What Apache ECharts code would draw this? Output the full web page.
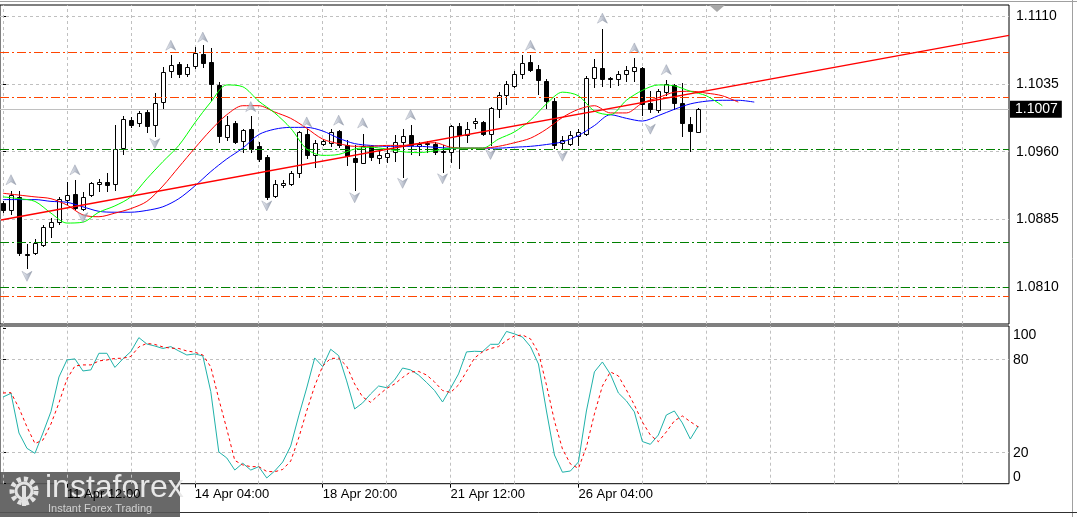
<!DOCTYPE html>
<html><head><meta charset="utf-8">
<script src="https://cdn.jsdelivr.net/npm/echarts@6/dist/echarts.min.js"></script>
<style>html,body{margin:0;padding:0;background:#fff}#c{width:1077px;height:517px}</style>
</head><body><div id="c"></div>
<script>
// ---------- data ----------
const timeLabelIdx = [8, 24, 40, 56, 72];
const timeLabels = ['11 Apr 12:00', '14 Apr 04:00', '18 Apr 20:00', '21 Apr 12:00', '26 Apr 04:00'];
const priceTicks = [1.0810, 1.0885, 1.0960, 1.1035, 1.1110];
const stochTicks = [0, 20, 80, 100];
// [open, close, low, high], one row per 4H bar
const candles = [
[1.0903,1.0895,1.0893,1.0905],[1.0895,1.0912,1.0891,1.0917],[1.0910,1.0848,1.0846,1.0917],[1.0847,1.0846,1.0831,1.0858],
[1.0848,1.0859,1.0847,1.0863],[1.0857,1.0877,1.0856,1.0879],[1.0877,1.0882,1.0866,1.0887],[1.0882,1.0908,1.0880,1.0910],
[1.0906,1.0912,1.0902,1.0926],[1.0913,1.0898,1.0897,1.0929],[1.0897,1.0910,1.0895,1.0915],[1.0912,1.0925,1.0911,1.0927],
[1.0924,1.0926,1.0916,1.0930],[1.0926,1.0923,1.0916,1.0937],[1.0924,1.0963,1.0918,1.0990],[1.0964,1.0996,1.0958,1.1000],
[1.0995,1.0990,1.0987,1.0998],[1.0992,1.1003,1.0988,1.1005],[1.1004,1.0989,1.0982,1.1006],[1.0990,1.1014,1.0977,1.1025],
[1.1015,1.1048,1.1008,1.1054],[1.1049,1.1056,1.1043,1.1067],[1.1057,1.1046,1.1043,1.1059],[1.1046,1.1054,1.1044,1.1057],
[1.1055,1.1069,1.1053,1.1076],[1.1068,1.1058,1.1054,1.1078],[1.1059,1.1035,1.1017,1.1075],[1.1034,1.0977,1.0971,1.1037],
[1.0976,1.0990,1.0973,1.1000],[1.0992,1.0971,1.0970,1.0994],[1.0972,1.0984,1.0960,1.0985],[1.0985,1.0963,1.0960,1.1000],
[1.0966,1.0952,1.0950,1.0971],[1.0954,1.0910,1.0908,1.0956],[1.0911,1.0924,1.0910,1.0929],[1.0923,1.0925,1.0921,1.0929],
[1.0924,1.0937,1.0923,1.0939],[1.0936,1.0982,1.0932,1.0983],[1.0980,1.0956,1.0953,1.0985],[1.0956,1.0970,1.0943,1.0973],
[1.0969,1.0972,1.0968,1.0974],[1.0970,1.0982,1.0966,1.0985],[1.0983,1.0968,1.0965,1.0984],[1.0967,1.0955,1.0945,1.0973],
[1.0953,1.0949,1.0918,1.0967],[1.0947,1.0966,1.0947,1.0980],[1.0966,1.0954,1.0951,1.0967],[1.0953,1.0956,1.0947,1.0961],
[1.0954,1.0959,1.0949,1.0965],[1.0960,1.0971,1.0950,1.0979],[1.0971,1.0977,1.0932,1.0985],[1.0978,1.0967,1.0958,1.0990],
[1.0966,1.0969,1.0956,1.0971],[1.0970,1.0969,1.0960,1.0972],[1.0969,1.0960,1.0957,1.0971],[1.0961,1.0960,1.0938,1.0967],
[1.0960,1.0989,1.0949,1.0990],[1.0989,1.0979,1.0942,1.0992],[1.0979,1.0985,1.0971,1.0993],[1.0992,1.0994,1.0986,1.0997],
[1.0993,1.0980,1.0979,1.0994],[1.0980,1.1008,1.0967,1.1010],[1.1007,1.1023,1.0999,1.1026],[1.1023,1.1035,1.1013,1.1038],
[1.1033,1.1046,1.1032,1.1049],[1.1046,1.1058,1.1042,1.1067],[1.1059,1.1050,1.1049,1.1067],[1.1052,1.1039,1.1024,1.1056],
[1.1038,1.1016,1.1009,1.1041],[1.1016,1.0967,1.0964,1.1019],[1.0970,1.0973,1.0964,1.0977],[1.0969,1.0979,1.0967,1.0983],
[1.0977,1.0982,1.0967,1.0985],[1.0980,1.1042,1.0979,1.1044],[1.1042,1.1054,1.1032,1.1063],[1.1053,1.1041,1.1033,1.1096],
[1.1042,1.1041,1.1032,1.1043],[1.1041,1.1046,1.1034,1.1049],[1.1046,1.1051,1.1038,1.1055],[1.1049,1.1054,1.1038,1.1064],
[1.1053,1.1013,1.1001,1.1054],[1.1014,1.1007,1.1004,1.1027],[1.1006,1.1027,1.1004,1.1030],[1.1026,1.1035,1.1023,1.1039],
[1.1034,1.1014,1.1007,1.1035],[1.1014,1.0992,1.0977,1.1036],[1.0991,1.0983,1.0961,1.0998],[1.0982,1.1007,1.0982,1.1008]
];
// moving averages, one reading every 2 bars (bar 0, 2, 4, ...)
const maGreen = [1.0910,1.0908,1.0905,1.0892,1.0881,1.0882,1.0893,1.0900,1.0910,1.0930,1.0949,1.0967,1.0992,1.1015,1.1034,1.1032,
1.1016,1.1003,1.0986,1.0963,1.0956,1.0957,1.0963,1.0965,1.0963,1.0960,1.0959,1.0961,1.0964,1.0964,1.0964,1.0974,1.0982,1.0995,
1.1013,1.1026,1.1022,1.1005,1.1001,1.1017,1.1028,1.1034,1.1033,1.1027,1.1022,1.1011];
const maRed = [1.0914,1.0912,1.0910,1.0908,1.0901,1.0890,1.0888,1.0892,1.0897,1.0905,1.0922,1.0943,1.0964,1.0984,1.1001,1.1011,
1.1011,1.1004,1.0997,1.0986,1.0974,1.0969,1.0966,1.0966,1.0967,1.0967,1.0969,1.0970,1.0965,1.0964,1.0964,1.0966,1.0970,1.0975,
1.0985,1.0998,1.1007,1.1011,1.1003,1.1003,1.1014,1.1020,1.1026,1.1027,1.1025,1.1022,1.1015];
const maBlue = [1.0907,1.0907,1.0907,1.0905,1.0904,1.0899,1.0894,1.0893,1.0893,1.0895,1.0899,1.0908,1.0922,1.0938,1.0952,1.0964,
1.0979,1.0985,1.0987,1.0987,1.0983,1.0975,1.0969,1.0967,1.0966,1.0966,1.0966,1.0965,1.0964,1.0964,1.0964,1.0964,1.0965,1.0966,
1.0968,1.0971,1.0978,1.0989,1.1001,1.0997,1.0994,1.1000,1.1007,1.1013,1.1016,1.1017,1.1017,1.1015];
const trendLine = [[-0.25, 1.08844], [125.875, 1.10889]];
const levelsRed = [1.1070, 1.1020, 1.0800];
const levelsGreen = [1.0963, 1.0860, 1.0810];
const lastPrice = 1.1007;
const fractalUpIdx = [1, 9, 21, 25, 31, 38, 42, 45, 51, 66, 75, 79, 83];
const fractalUpVal = [1.0929, 1.0940, 1.1078, 1.1087, 1.1010, 1.0993, 1.0995, 1.0992, 1.1001, 1.1078, 1.1108, 1.1075, 1.1051];
const fractalDnIdx = [3, 10, 19, 33, 44, 50, 55, 61, 70, 81];
const fractalDnVal = [1.0822, 1.0887, 1.0969, 1.0900, 1.0909, 1.0925, 1.0930, 1.0957, 1.0955, 1.0985];
const stochMain = [55.9,58.3,32.7,22.8,19.6,32.7,46.5,68.8,79.8,80.5,72.7,73.4,84.1,84.1,75.0,80.5,85.2,94.2,90.1,88.8,
87.2,88.4,85.6,83.0,83.7,82.4,59.4,20.5,16.6,8.8,13.2,8.8,11.0,3.7,8.2,14.0,24.3,43.7,61.7,81.1,
75.5,86.7,82.6,66.3,48.2,52.1,57.9,63.0,61.9,66.9,74.6,73.4,70.1,65.3,60.1,52.7,61.5,70.8,85.0,85.4,
85.2,89.9,89.9,98.2,96.6,94.6,88.4,77.2,46.9,18.5,7.4,8.2,14.0,46.9,72.1,78.5,70.6,58.5,53.4,46.3,
27.2,25.4,31.4,44.3,46.9,39.2,28.8,37.2];
const stochSignal = [58.5,58.7,48.8,36.6,25.9,28.2,38.5,52.1,67.5,75.9,76.6,76.6,79.2,79.8,80.8,80.9,82.1,88.2,90.5,89.8,
88.2,87.4,87.2,85.6,84.8,83.0,75.3,54.6,35.3,15.0,12.1,11.0,11.0,7.9,7.7,9.2,14.6,29.5,46.9,63.0,
75.9,80.8,80.9,75.9,64.3,55.9,52.5,57.2,61.4,64.3,68.5,72.1,72.4,70.1,65.6,60.1,58.8,63.7,72.4,81.1,
85.0,87.2,88.4,92.4,95.3,95.9,93.4,84.6,63.7,40.5,22.4,12.7,9.9,23.7,45.0,63.0,72.1,69.5,60.5,50.8,
39.8,31.4,27.1,33.4,40.5,43.7,40.0,36.6];

// ---------- chart ----------
const chart = echarts.init(document.getElementById('c'));
const X_MIN = -0.375, X_MAX = 125.875;
const FONT = 'Liberation Sans';
const gridKs = []; for (let k = 0; k <= 120; k += 8) gridKs.push(k);
const gridStyle = {color: '#c0c0c0', type: [3, 3], width: 1};
const dashDot = [9, 3, 2, 3];
const mainRect = {left: -1, top: 5, width: 1010, height: 319};
const stochRect = {left: -1, top: 326, width: 1010, height: 157.7};

function renderCandle(params, api) {
  const k = api.value(0), o = api.value(1), c = api.value(2), l = api.value(3), h = api.value(4);
  const pO = api.coord([k, o]), pC = api.coord([k, c]), pL = api.coord([k, l]), pH = api.coord([k, h]);
  const cx = Math.round(pO[0]);
  const yTop = Math.round(Math.min(pO[1], pC[1])), yBot = Math.round(Math.max(pO[1], pC[1]));
  return {type: 'group', children: [
    {type: 'line', shape: {x1: cx + 0.5, y1: Math.round(pH[1]), x2: cx + 0.5, y2: Math.round(pL[1]) + 1},
     style: {stroke: '#000', lineWidth: 1}},
    {type: 'rect', shape: {x: cx - 1.5, y: yTop + 0.5, width: 4, height: Math.max(yBot - yTop, 0)},
     style: {fill: c >= o ? '#fff' : '#000', stroke: '#000', lineWidth: 1}}
  ]};
}
const arrowFill = new echarts.graphic.LinearGradient(0, 0, 1, 0, [
  {offset: 0, color: '#eef0f5'}, {offset: 0.5, color: '#b3bac9'}, {offset: 1, color: '#7a8394'}]);

const option = {
  animation: false,
  backgroundColor: '#fff',
  grid: [
    Object.assign({show: true, borderColor: '#000', borderWidth: 1, backgroundColor: '#fff'}, mainRect),
    Object.assign({show: true, borderColor: '#000', borderWidth: 1, backgroundColor: '#fff'}, stochRect),
    Object.assign({show: false}, stochRect),
    Object.assign({show: false}, stochRect)
  ],
  xAxis: [
    {gridIndex: 0, type: 'value', min: X_MIN, max: X_MAX, show: false},
    {gridIndex: 1, type: 'value', min: X_MIN, max: X_MAX,
     axisLine: {show: false}, splitLine: {show: false},
     axisTick: {show: true, customValues: timeLabelIdx, length: 4, lineStyle: {color: '#000'}},
     axisLabel: {customValues: timeLabelIdx, formatter: v => timeLabels[timeLabelIdx.indexOf(v)],
       align: 'left', margin: 4, color: '#000', fontSize: 13, fontFamily: FONT}},
    {gridIndex: 2, type: 'value', min: X_MIN, max: X_MAX, show: false},
    {gridIndex: 3, type: 'value', min: X_MIN, max: X_MAX, show: false}
  ],
  yAxis: [
    {gridIndex: 0, type: 'value', position: 'right', min: 1.076917, max: 1.112256,
     axisLine: {show: false}, splitLine: {show: false},
     axisTick: {show: true, customValues: priceTicks, length: 4, lineStyle: {color: '#000'}},
     axisLabel: {customValues: priceTicks, formatter: v => v.toFixed(4), margin: 7,
       fontSize: 14, color: '#000', fontFamily: FONT}},
    {gridIndex: 1, type: 'value', position: 'right', min: 0, max: 101.7,
     axisLine: {show: false}, splitLine: {show: false},
     axisTick: {show: true, customValues: stochTicks, length: 3, lineStyle: {color: '#000'}},
     axisLabel: {customValues: [stochTicks[1], stochTicks[2]], formatter: v => String(v), margin: 4,
       fontSize: 14, color: '#000', fontFamily: FONT}},
    {gridIndex: 2, type: 'value', position: 'right', min: 0, max: 101.7,
     axisLine: {show: false}, splitLine: {show: false}, axisTick: {show: false},
     axisLabel: {customValues: [stochTicks[3]], formatter: v => String(v), margin: 4, verticalAlign: 'top',
       fontSize: 14, color: '#000', fontFamily: FONT}},
    {gridIndex: 3, type: 'value', position: 'right', min: 0, max: 101.7,
     axisLine: {show: false}, splitLine: {show: false}, axisTick: {show: false},
     axisLabel: {customValues: [stochTicks[0]], formatter: v => String(v), margin: 4, verticalAlign: 'bottom',
       fontSize: 14, color: '#000', fontFamily: FONT}}
  ],
  series: [
    // main-pane grid
    {type: 'line', xAxisIndex: 0, yAxisIndex: 0, data: [], silent: true,
     markLine: {silent: true, z: 1, precision: 6, symbol: ['none', 'none'], label: {show: false}, lineStyle: gridStyle,
       emphasis: {disabled: true},
       data: gridKs.map(k => ({xAxis: k})).concat(priceTicks.map(v => ({yAxis: v})))}},
    // bid line + price label
    {type: 'line', xAxisIndex: 0, yAxisIndex: 0, data: [], silent: true,
     markLine: {silent: true, z: 1, precision: 6, symbol: ['none', 'none'], emphasis: {disabled: true},
       lineStyle: {color: '#c0c0c0', type: 'solid', width: 1},
       label: {show: true, position: 'end', formatter: lastPrice.toFixed(4), color: '#fff', backgroundColor: '#000',
         padding: [2, 4, 1, 5], fontSize: 14, fontFamily: FONT, distance: 1},
       data: [{yAxis: lastPrice}]}},
    // candles
    {type: 'custom', xAxisIndex: 0, yAxisIndex: 0, z: 3, renderItem: renderCandle, clip: true,
     encode: {x: 0, y: [1, 2, 3, 4]},
     data: candles.map((c, k) => [k, c[0], c[1], c[2], c[3]])},
    // moving averages
    {type: 'line', xAxisIndex: 0, yAxisIndex: 0, z: 4, showSymbol: false, smooth: 0.3,
     lineStyle: {color: '#0000ff', width: 1}, data: maBlue.map((v, i) => [i * 2, v])},
    {type: 'line', xAxisIndex: 0, yAxisIndex: 0, z: 4, showSymbol: false, smooth: 0.3,
     lineStyle: {color: '#ff0000', width: 1}, data: maRed.map((v, i) => [i * 2, v])},
    {type: 'line', xAxisIndex: 0, yAxisIndex: 0, z: 4, showSymbol: false, smooth: 0.3,
     lineStyle: {color: '#00ff00', width: 1}, data: maGreen.map((v, i) => [i * 2, v])},
    // trend line
    {type: 'line', xAxisIndex: 0, yAxisIndex: 0, z: 4, showSymbol: false,
     lineStyle: {color: '#ff0000', width: 1.4}, data: trendLine},
    // support / resistance levels
    {type: 'line', xAxisIndex: 0, yAxisIndex: 0, data: [], silent: true,
     markLine: {silent: true, z: 4, precision: 6, symbol: ['none', 'none'], label: {show: false}, emphasis: {disabled: true},
       data: levelsRed.map(v => ({yAxis: v, lineStyle: {color: '#ff4500', type: dashDot, width: 1}}))
         .concat(levelsGreen.map(v => ({yAxis: v, lineStyle: {color: '#008000', type: dashDot, width: 1}})))}},
    // fractals
    {type: 'scatter', xAxisIndex: 0, yAxisIndex: 0, z: 6, symbol: 'path://M5,0 L10,10 L5,7 L0,10 Z',
     symbolSize: [10, 10], itemStyle: {color: arrowFill, borderColor: '#8a92a3', borderWidth: 0.5},
     data: fractalUpIdx.map((k, i) => [k, fractalUpVal[i]])},
    {type: 'scatter', xAxisIndex: 0, yAxisIndex: 0, z: 6, symbol: 'path://M0,0 L5,3 L10,0 L5,10 Z',
     symbolSize: [10, 10], itemStyle: {color: arrowFill, borderColor: '#8a92a3', borderWidth: 0.5},
     data: fractalDnIdx.map((k, i) => [k, fractalDnVal[i]])},
    // stochastic pane grid
    {type: 'line', xAxisIndex: 1, yAxisIndex: 1, data: [], silent: true,
     markLine: {silent: true, z: 1, precision: 6, symbol: ['none', 'none'], label: {show: false}, lineStyle: gridStyle,
       emphasis: {disabled: true},
       data: gridKs.map(k => ({xAxis: k})).concat([{yAxis: stochTicks[1]}, {yAxis: stochTicks[2]}])}},
    {type: 'line', xAxisIndex: 1, yAxisIndex: 1, z: 4, showSymbol: false,
     lineStyle: {color: '#20b2aa', width: 1}, data: stochMain.map((v, k) => [k, v])},
    {type: 'line', xAxisIndex: 1, yAxisIndex: 1, z: 4, showSymbol: false,
     lineStyle: {color: '#ff0000', width: 1, type: [3, 3]}, data: stochSignal.map((v, k) => [k, v])}
  ],
  graphic: [
    {type: 'line', shape: {x1: 0, y1: 1.5, x2: 1077, y2: 1.5}, style: {stroke: '#a0a0a0', lineWidth: 1}, silent: true},
    {type: 'line', shape: {x1: 1072.5, y1: 0, x2: 1072.5, y2: 517}, style: {stroke: '#a0a0a0', lineWidth: 1}, silent: true},
    {type: 'line', shape: {x1: 0, y1: 512.5, x2: 1077, y2: 512.5}, style: {stroke: '#303030', lineWidth: 1}, silent: true},
    {type: 'polygon', shape: {points: [[709, 5], [725, 5], [717, 12]]}, style: {fill: '#a8a8a8'}, silent: true, z: 50},
    {type: 'group', z: 100, silent: true, children: [
      {type: 'rect', shape: {x: 0, y: 472, width: 180, height: 45}, style: {fill: 'rgba(88,88,88,0.9)'}},
      {type: 'circle', shape: {cx: 24, cy: 491, r: 12}, style: {fill: 'none', stroke: '#e2e2e2', lineWidth: 5, lineDash: [4, 3]}},
      {type: 'circle', shape: {cx: 24, cy: 491, r: 8}, style: {fill: 'none', stroke: '#e2e2e2', lineWidth: 3}},
      {type: 'rect', shape: {x: 22, y: 486, width: 4, height: 20}, style: {fill: '#e2e2e2'}},
      {type: 'text', x: 45, y: 472, style: {text: 'instaforex', fill: '#e8e8e8', font: '32px "Liberation Sans"'}},
      {type: 'text', x: 48, y: 503, style: {text: 'Instant Forex Trading', fill: '#d0d0d0', font: '11px "Liberation Sans"'}}
    ]}
  ]
};
chart.setOption(option);
</script>
</body></html>
